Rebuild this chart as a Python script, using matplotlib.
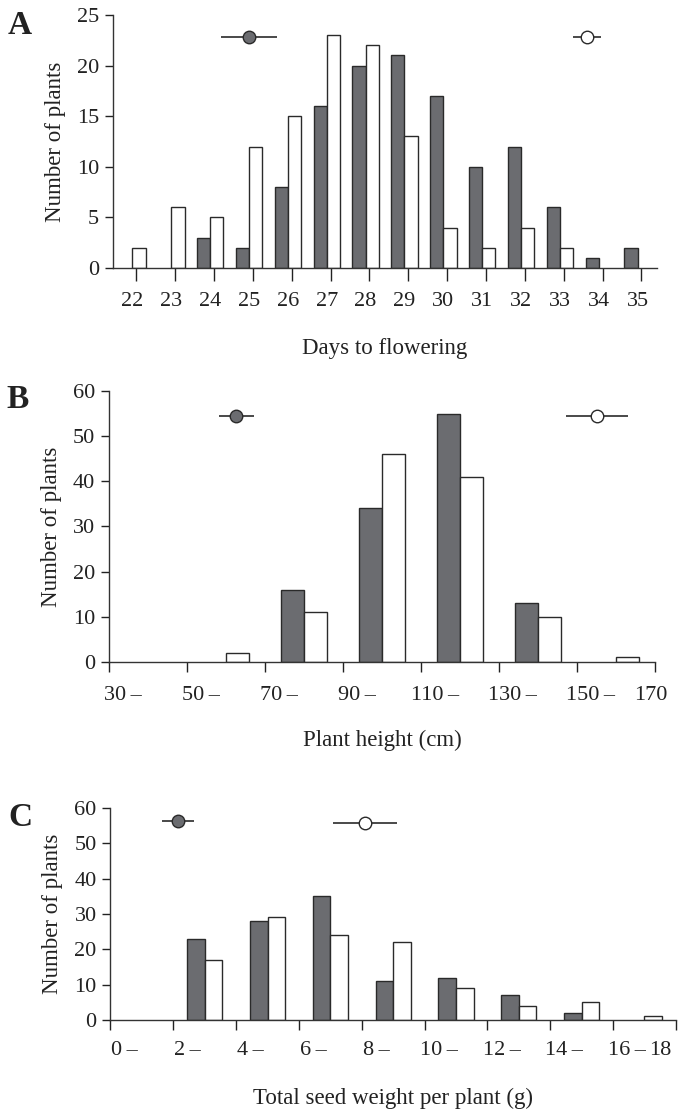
import matplotlib
matplotlib.use('Agg')
import matplotlib.pyplot as plt
import numpy as np

plt.rcParams['font.family'] = ['Liberation Serif', 'DejaVu Serif']
plt.rcParams['font.size'] = 16
plt.rcParams['axes.labelsize'] = 16.5
plt.rcParams['text.color'] = '#222222'
plt.rcParams['axes.labelcolor'] = '#222222'
plt.rcParams['xtick.color'] = '#222222'
plt.rcParams['ytick.color'] = '#222222'

# A - days to flowering
days = [22, 23, 24, 25, 26, 27, 28, 29, 30, 31, 32, 33, 34, 35]
days_dark = [0, 0, 3, 2, 8, 16, 20, 21, 17, 10, 12, 6, 1, 2]
days_white = [2, 6, 5, 12, 15, 23, 22, 13, 4, 2, 4, 2, 0, 0]
days_mean = [25.0, 33.7]
days_err = [0.73, 0.37]
days_mean_y = [22.8, 22.8]

# B - plant height (bins of 20 cm)
height_ticks = [30, 50, 70, 90, 110, 130, 150, 170]
height_labels = ['30\u2009\u2013', '50\u2009\u2013', '70\u2009\u2013', '90\u2009\u2013',
                 '110\u2009\u2013', '130\u2009\u2013', '150\u2009\u2013', '170']
height_mid = [40, 60, 80, 100, 120, 140, 160]
height_dark = [0, 0, 16, 34, 55, 13, 0]
height_white = [0, 2, 11, 46, 41, 10, 1]
height_mean = [62.6, 155.1]
height_err = [4.5, 8.0]
height_mean_y = [54.5, 54.5]

# C - total seed weight (bins of 2 g)
seed_ticks = [0, 2, 4, 6, 8, 10, 12, 14, 16, 18]
seed_labels = ['0\u2009\u2013', '2\u2009\u2013', '4\u2009\u2013', '6\u2009\u2013', '8\u2009\u2013',
               '10\u2009\u2013', '12\u2009\u2013', '14\u2009\u2013', '16\u2009\u2013', '18']
seed_mid = [1, 3, 5, 7, 9, 11, 13, 15, 17]
seed_dark = [0, 23, 28, 35, 11, 12, 7, 2, 0]
seed_white = [0, 17, 29, 24, 22, 9, 4, 5, 1]
seed_mean = [2.15, 8.1]
seed_err = [0.52, 1.03]
seed_mean_y = [56.3, 55.7]

dark = '#6b6c70'
edge = '#2a2a2a'

fig = plt.figure(figsize=(6.82, 11.19), dpi=100, facecolor='white')


def draw_bars(ax, mid, dark_vals, white_vals, w):
    mid = np.asarray(mid, dtype=float)
    dv = np.asarray(dark_vals)
    wv = np.asarray(white_vals)
    # dark bar left of the bin centre, white bar right of it
    ax.bar(mid[dv > 0] - w, dv[dv > 0], width=w, align='edge', color=dark,
           edgecolor=edge, linewidth=1.0, zorder=1)
    ax.bar(mid[wv > 0], wv[wv > 0], width=w, align='edge', color='white',
           edgecolor=edge, linewidth=1.0, zorder=1)


def draw_means(ax, mx, my, err):
    ax.errorbar(mx[0], my[0], xerr=err[0], fmt='o', ms=9, mfc=dark, mec=edge,
                mew=1.0, ecolor=edge, elinewidth=1.2, capsize=0, zorder=3)
    ax.errorbar(mx[1], my[1], xerr=err[1], fmt='o', ms=9, mfc='white', mec=edge,
                mew=1.0, ecolor=edge, elinewidth=1.2, capsize=0, zorder=3)


def style(ax):
    for s in ['top', 'right']:
        ax.spines[s].set_visible(False)
    for s in ['left', 'bottom']:
        ax.spines[s].set_color('#333333')
        ax.spines[s].set_linewidth(1.0)
    ax.tick_params(axis='y', direction='out', length=6, width=1.0, pad=4)


# PANEL A
ax_a = fig.add_axes([0.1657, 0.7605, 0.7977, 0.2261])
draw_bars(ax_a, days, days_dark, days_white, 0.34)
draw_means(ax_a, days_mean, days_mean_y, days_err)
ax_a.set_xlim(21.5, 35.5)
ax_a.set_ylim(0, 25)
ax_a.set_yticks([0, 5, 10, 15, 20, 25])
style(ax_a)
ax_a.set_xticks(np.array(days) + 0.1)
ax_a.set_xticklabels([])
ax_a.tick_params(axis='x', which='major', direction='out', length=9, width=1.0)
ax_a.set_xticks(days, [str(d) for d in days], minor=True)
ax_a.tick_params(axis='x', which='minor', length=0, pad=17)
ax_a.set_xlabel('Days to flowering', labelpad=20)
ax_a.set_ylabel('Number of plants', labelpad=8)

# PANEL B
ax_b = fig.add_axes([0.1598, 0.4084, 0.8006, 0.2422])
draw_bars(ax_b, height_mid, height_dark, height_white, 5.8)
draw_means(ax_b, height_mean, height_mean_y, height_err)
ax_b.set_xlim(30, 170)
ax_b.set_ylim(0, 60)
ax_b.set_yticks([0, 10, 20, 30, 40, 50, 60])
style(ax_b)
ax_b.set_xticks(height_ticks)
ax_b.set_xticklabels([])
ax_b.tick_params(axis='x', which='major', direction='out', length=7, width=1.0)
b_label_pos = [t + 3.5 for t in height_ticks[:-1]] + [168.8]
ax_b.set_xticks(b_label_pos, height_labels, minor=True)
ax_b.tick_params(axis='x', which='minor', length=0, pad=17)
ax_b.set_xlabel('Plant height (cm)', labelpad=18)
ax_b.set_ylabel('Number of plants', labelpad=8)

# PANEL C
ax_c = fig.add_axes([0.162, 0.0885, 0.829, 0.1895])
draw_bars(ax_c, seed_mid, seed_dark, seed_white, 0.56)
draw_means(ax_c, seed_mean, seed_mean_y, seed_err)
ax_c.set_xlim(0, 18)
ax_c.set_ylim(0, 60)
ax_c.set_yticks([0, 10, 20, 30, 40, 50, 60])
style(ax_c)
ax_c.set_xticks(seed_ticks)
ax_c.set_xticklabels([])
ax_c.tick_params(axis='x', which='major', direction='out', length=7, width=1.0)
c_label_pos = [t + 0.45 for t in seed_ticks[:-1]] + [17.5]
ax_c.set_xticks(c_label_pos, seed_labels, minor=True)
ax_c.tick_params(axis='x', which='minor', length=0, pad=15)
ax_c.set_xlabel('Total seed weight per plant (g)', labelpad=20)
ax_c.set_ylabel('Number of plants', labelpad=8)

fig.text(20 / 682, 1 - 25 / 1119, 'A', fontsize=24, fontweight='bold', ha='center', va='center')
fig.text(18 / 682, 1 - 399 / 1119, 'B', fontsize=24, fontweight='bold', ha='center', va='center')
fig.text(20 / 682, 1 - 817 / 1119, 'C', fontsize=24, fontweight='bold', ha='center', va='center')

plt.savefig('out.png', dpi=100, facecolor='white')
